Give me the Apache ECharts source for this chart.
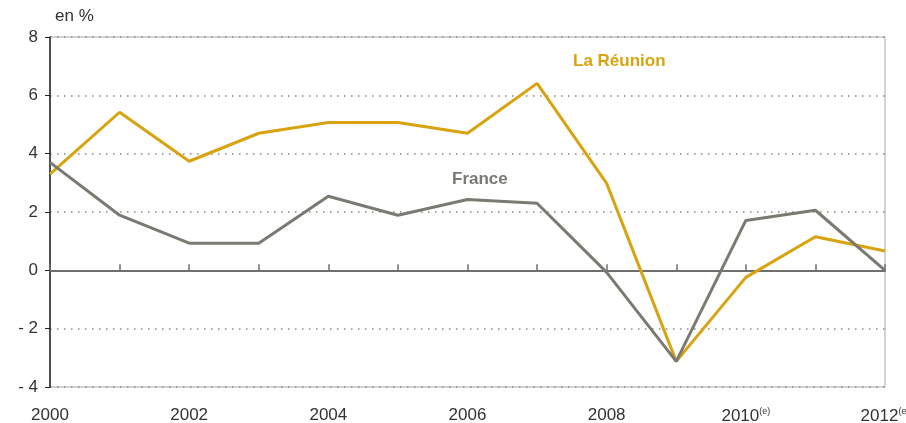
<!DOCTYPE html>
<html>
<head>
<meta charset="utf-8">
<script src="https://cdn.jsdelivr.net/npm/echarts@6/dist/echarts.min.js"></script>
<style>
  html, body { margin: 0; padding: 0; background: #fff; }
  #chart { width: 906px; height: 423px; }
</style>
</head>
<body>
<div id="chart"></div>
<script>
// années et valeurs (en %)
const years = [2000, 2001, 2002, 2003, 2004, 2005, 2006, 2007, 2008, 2009, 2010, 2011, 2012]
const reunion = [3.3, 5.42, 3.74, 4.7, 5.07, 5.07, 4.7, 6.41, 2.98, -3.12, -0.24, 1.15, 0.66]
const france = [3.7, 1.89, 0.93, 0.93, 2.54, 1.89, 2.43, 2.3, -0.07, -3.12, 1.71, 2.06, 0]
const estimated = [2010, 2011, 2012]

const gold = '#d8a30f'
const grey = '#7a7a72'
const font = 'Liberation Sans'

const myChart = echarts.init(document.getElementById('chart'))

const pairs = (vals) => years.map((y, i) => [y, vals[i]])

const option = {
    animation: false,
    textStyle: { fontFamily: font },
    grid: {
        left: 50, right: 21, top: 37, bottom: 36,
        outerBoundsMode: 'none',
        show: true, borderColor: '#a8a8a8', borderWidth: 1
    },
    xAxis: [{
        type: 'value', min: 2000, max: 2012, interval: 2,
        axisLine: { show: false, onZero: false },
        axisTick: { show: false },
        splitLine: { show: false },
        axisLabel: {
            margin: 20, fontSize: 17, color: '#333',
            formatter: (v) => estimated.includes(v) ? '{y|' + v + '}{e|(e)}' : '' + v,
            rich: {
                y: { fontSize: 17, color: '#333', fontFamily: font },
                e: { fontSize: 9, color: '#333', fontFamily: font, verticalAlign: 'top', padding: [0, 0, 10, 0] }
            }
        }
    }, {
        type: 'value', min: 2000, max: 2012, interval: 1,
        axisLine: { show: true, onZero: true, lineStyle: { color: '#6e6e6e', width: 2 } },
        axisTick: { show: true, inside: false, length: 6, lineStyle: { color: '#6e6e6e', width: 1.5 } },
        axisLabel: { show: false },
        splitLine: { show: false }
    }],
    yAxis: {
        type: 'value', min: -4, max: 8, interval: 2,
        axisLine: { show: true, lineStyle: { color: '#222', width: 1.5 } },
        axisTick: { show: true, length: 5, lineStyle: { color: '#222' } },
        axisLabel: {
            fontSize: 17, color: '#333', margin: 12,
            formatter: (v) => v < 0 ? '- ' + Math.abs(v) : '' + v
        },
        splitLine: { show: true, lineStyle: { color: '#888', type: [1.5, 5.5], width: 1.5 } }
    },
    series: [{
        name: 'La Réunion', type: 'line', data: pairs(reunion), xAxisIndex: 1,
        symbol: 'none', lineStyle: { color: gold, width: 3 }, z: 3
    }, {
        name: 'France', type: 'line', data: pairs(france), xAxisIndex: 1,
        symbol: 'none', lineStyle: { color: grey, width: 3 }, z: 4
    }],
    graphic: [
        { type: 'text', left: 55, top: 8, style: { text: 'en %', fontSize: 17, fill: '#333', fontFamily: font } },
        { type: 'text', left: 573, top: 53, style: { text: 'La Réunion', fontSize: 17, fontWeight: 'bold', fill: gold, fontFamily: font } },
        { type: 'text', left: 452, top: 171, style: { text: 'France', fontSize: 17, fontWeight: 'bold', fill: grey, fontFamily: font } }
    ]
}

myChart.setOption(option)
</script>
</body>
</html>
